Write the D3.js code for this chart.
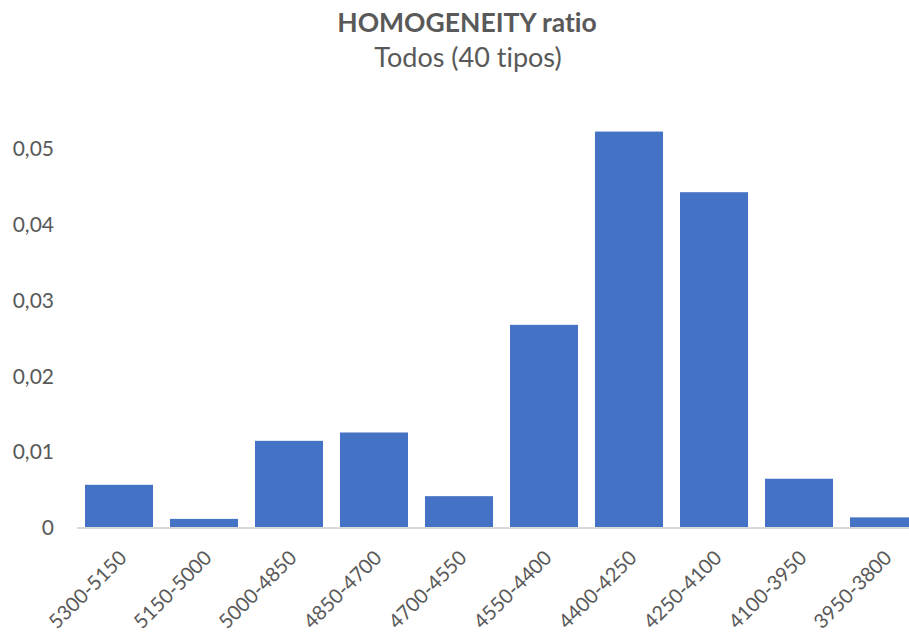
<!DOCTYPE html>
<html><head><meta charset="utf-8">
<script src="https://cdn.jsdelivr.net/npm/d3@7"></script>
<style>body{margin:0;background:#fff}svg{display:block}text{font-variant-ligatures:none}</style>
</head><body><svg id="c" width="909" height="632"></svg>
<script>
const categories = ["5300-5150","5150-5000","5000-4850","4850-4700","4700-4550","4550-4400","4400-4250","4250-4100","4100-3950","3950-3800"];
const values = [0.0057,0.0012,0.0115,0.0126,0.0042,0.0268,0.0523,0.0443,0.0065,0.0014];
const yTicks = [0,0.01,0.02,0.03,0.04,0.05];
const yTickLabels = ["0","0,01","0,02","0,03","0,04","0,05"];
const title = "HOMOGENEITY ratio";
const subtitle = "Todos (40 tipos)";

const svg = d3.select("#c");
const font = "Lato, 'Open Sans', sans-serif";
const x = d3.scaleBand().domain(categories).range([76.5, 926.5]).paddingInner(0.2).paddingOuter(0.1);
const y = d3.scaleLinear().domain([0,0.05]).range([528,149]);

svg.append("text").attr("x",467).attr("y",32).attr("text-anchor","middle")
  .attr("font-family",font).attr("font-weight","bold").attr("font-size",26.5).attr("fill","#595959").text(title);
svg.append("text").attr("x",468).attr("y",67).attr("text-anchor","middle")
  .attr("font-family",font).attr("font-size",27).attr("fill","#595959").text(subtitle);

svg.selectAll("rect.bar").data(values).join("rect").attr("class","bar")
  .attr("x",(d,i)=>x(categories[i])).attr("width",x.bandwidth())
  .attr("y",d=>y(d)).attr("height",d=>y(0)-y(d)).attr("fill","#4472C4");

const yAxis = d3.axisLeft(y).tickValues(yTicks).tickFormat((d,i)=>yTickLabels[i]).tickSize(0).tickPadding(0);
const gy = svg.append("g").attr("transform","translate(54,0)").call(yAxis);
gy.select(".domain").remove();
gy.selectAll("text").attr("font-family",font).attr("font-size",21).attr("fill","#595959");

const xAxis = d3.axisBottom(x).tickSize(0).tickPadding(0);
const gx = svg.append("g").attr("transform","translate(0,528)").call(xAxis);
gx.select(".domain").attr("stroke","#d9d9d9").attr("stroke-width",2).attr("d","M77,0H909");
gx.selectAll("text").attr("font-family",font).attr("font-size",20).attr("fill","#595959")
  .attr("text-anchor","end").attr("dy",null).attr("y",null)
  .attr("transform","translate(9,31) rotate(-45)");
</script></body></html>
